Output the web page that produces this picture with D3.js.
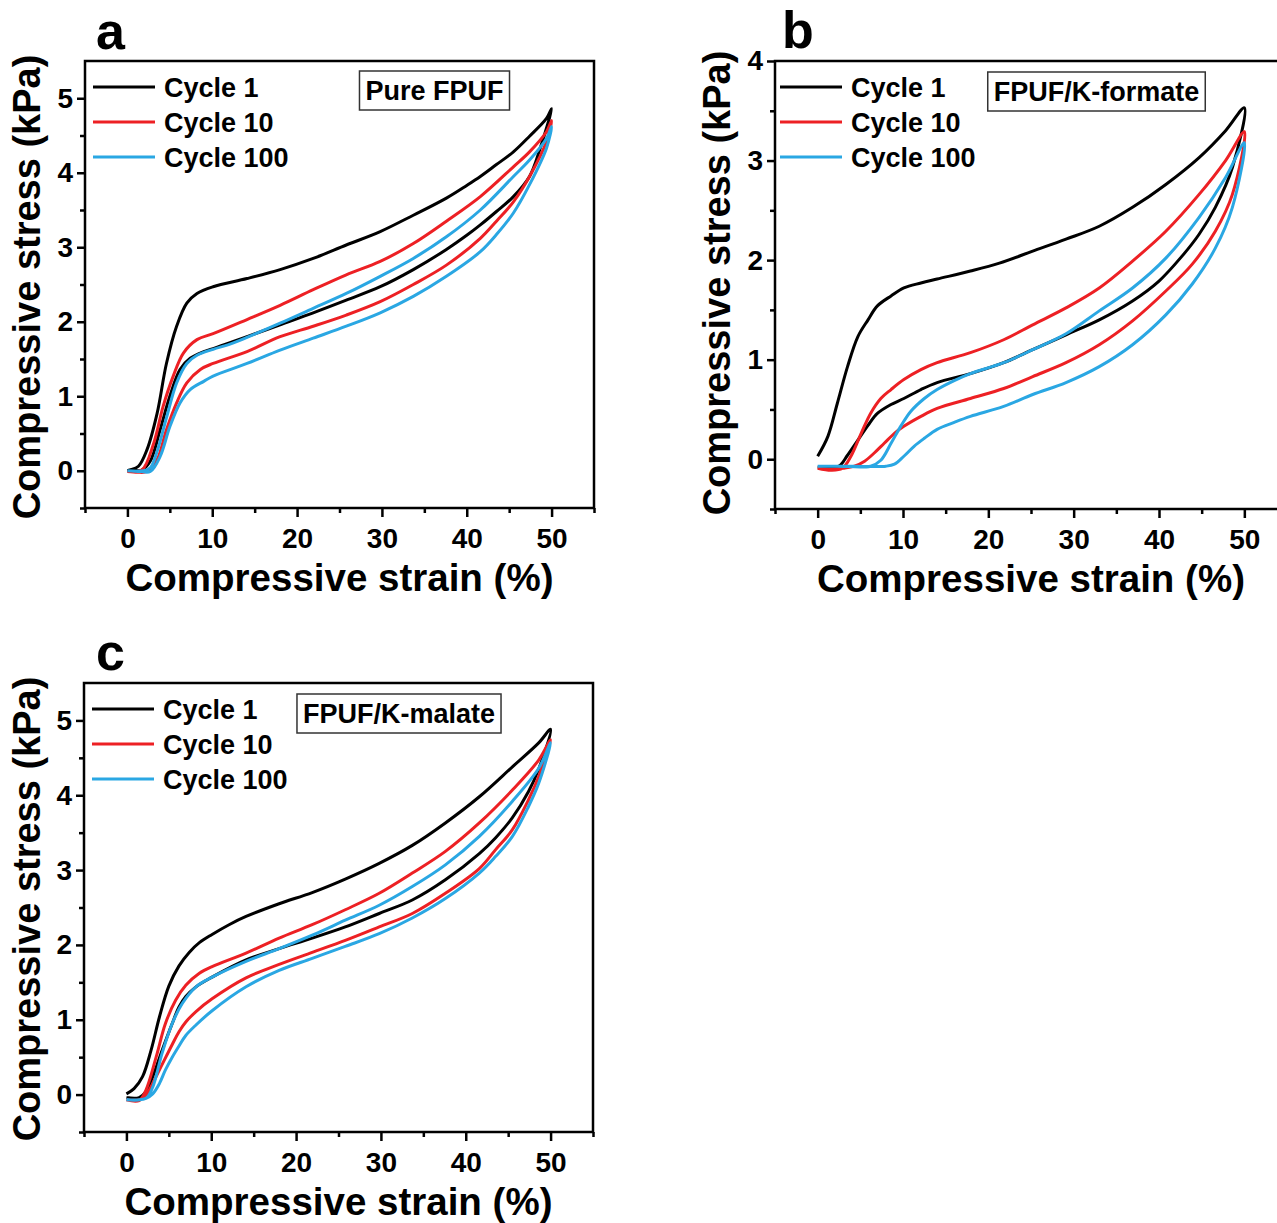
<!DOCTYPE html>
<html>
<head>
<meta charset="utf-8">
<script src="https://cdn.jsdelivr.net/npm/d3@7"></script>
<style>
body { margin: 0; background: #fff; }
text { font-family: "Liberation Sans", Arial, sans-serif; font-weight: bold; fill: #000; }
</style>
</head>
<body>
<div id="viz"></div>
<script>
const width = 1277;
const height = 1223;

const strainTicks = [0, 10, 20, 30, 40, 50];
const strainMinor = [-5, 5, 15, 25, 35, 45, 55];
const stressTicksA = [0, 1, 2, 3, 4, 5];
const stressMinorA = [-0.5, 0.5, 1.5, 2.5, 3.5, 4.5];
const stressTicksB = [0, 1, 2, 3, 4];
const stressMinorB = [-0.5, 0.5, 1.5, 2.5, 3.5];
const cycleNames = ['Cycle 1', 'Cycle 10', 'Cycle 100'];
const cycleColors = ['#000000', '#ED2024', '#2AA7E3'];
const panelTitles = ['Pure FPUF', 'FPUF/K-formate', 'FPUF/K-malate'];

// [strain %, stress kPa]
// a: Pure FPUF
const pureLoad1 = [[0,0],[0.3,0.01],[1.3,0.06],[2.3,0.28],[3.5,0.77],[4.6,1.44],[5.8,1.94],[7.0,2.25],[8.2,2.38],[10.1,2.47],[14.1,2.58],[18,2.70],[21.9,2.85],[25.8,3.03],[29.8,3.21],[33.7,3.43],[37.6,3.66],[40,3.83],[41.6,3.95],[43.5,4.11],[45.5,4.28],[47.4,4.49],[49.4,4.73],[50,4.86]];
const pureUnload1 = [[50,4.86],[48.6,4.31],[47.4,3.95],[45.5,3.68],[43.5,3.48],[41.6,3.30],[40,3.16],[37.6,2.97],[33.7,2.70],[29.8,2.47],[25.8,2.29],[21.9,2.12],[18,1.96],[14.1,1.80],[10.1,1.64],[9.0,1.60],[7.4,1.51],[6.2,1.36],[5.0,1.0],[3.85,0.55],[2.7,0.13],[1.7,0.01],[0.7,0],[0,0]];
const pureLoad10 = [[0,-0.01],[1.7,0.01],[3.1,0.37],[4.2,0.86],[5.4,1.27],[6.6,1.58],[8.2,1.76],[10.1,1.84],[14.1,2.03],[18,2.22],[21.9,2.43],[25.8,2.63],[29.8,2.81],[33.7,3.05],[37.6,3.35],[41.6,3.68],[45.5,4.08],[47.4,4.28],[49.4,4.55],[50,4.70]];
const pureUnload10 = [[50,4.70],[49.4,4.42],[47.4,3.95],[45.5,3.61],[43.5,3.35],[41.6,3.12],[37.6,2.76],[33.7,2.50],[29.8,2.27],[25.8,2.09],[21.9,1.94],[18,1.80],[14.1,1.60],[10.1,1.44],[8.6,1.36],[7.0,1.18],[5.8,0.91],[4.6,0.55],[3.5,0.15],[2.3,-0.01],[1.2,-0.02],[0,-0.01]];
const pureLoad100 = [[0,0],[1.9,0],[2.7,0.04],[3.5,0.26],[4.6,0.71],[5.8,1.18],[7.0,1.44],[8.2,1.55],[10.1,1.63],[12.1,1.70],[14.1,1.79],[18,1.98],[21.9,2.18],[25.8,2.38],[29.8,2.61],[33.7,2.85],[37.6,3.14],[41.6,3.50],[45.5,3.95],[47.4,4.17],[49.4,4.46],[50,4.62]];
const pureUnload100 = [[50,4.62],[49.4,4.33],[47.4,3.84],[45.5,3.46],[43.5,3.17],[41.6,2.94],[37.6,2.61],[33.7,2.34],[29.8,2.12],[25.8,1.94],[21.9,1.78],[18,1.62],[14.1,1.44],[10.1,1.27],[9.0,1.20],[7.4,1.09],[6.2,0.91],[5.0,0.59],[3.85,0.19],[2.7,-0.01],[1.5,-0.01],[0,0]];

// b: FPUF/K-formate
const formateLoad1 = [[0,0.03],[1.2,0.23],[2.3,0.56],[3.5,0.93],[4.7,1.23],[5.9,1.40],[7.0,1.54],[8.6,1.64],[10.1,1.72],[12.1,1.77],[14,1.81],[17.9,1.89],[21.3,1.97],[25.2,2.09],[29.1,2.21],[33,2.34],[36.9,2.53],[40.8,2.76],[44.7,3.03],[47.8,3.30],[50,3.53]];
const formateUnload1 = [[50,3.53],[48.6,2.93],[46.6,2.53],[44.7,2.26],[42.7,2.04],[40,1.79],[36.9,1.59],[33,1.40],[29.1,1.25],[25.2,1.10],[21.8,0.97],[17.9,0.86],[14,0.77],[12.1,0.70],[10.1,0.61],[8.6,0.55],[7.0,0.46],[5.9,0.34],[4.7,0.19],[3.5,0.04],[2.5,-0.07],[1.0,-0.08],[0,-0.08]];
const formateLoad10 = [[0,-0.09],[1.6,-0.11],[2.9,-0.09],[3.9,0.03],[5.1,0.26],[6.2,0.46],[7.4,0.61],[8.6,0.70],[10.1,0.80],[12.1,0.90],[14,0.97],[17.9,1.07],[21.8,1.20],[25.2,1.35],[29.1,1.52],[33,1.72],[36.9,1.99],[40.8,2.29],[44.7,2.66],[47.8,3.0],[50,3.29]];
const formateUnload10 = [[50,3.29],[48.6,2.66],[46.6,2.29],[43.9,1.96],[40.8,1.69],[36.9,1.39],[33,1.15],[29.1,0.97],[25.2,0.83],[21.8,0.71],[17.9,0.61],[14,0.51],[12.1,0.43],[10.1,0.33],[9.0,0.26],[7.8,0.16],[6.6,0.06],[5.5,-0.02],[4.3,-0.07],[3,-0.09],[1.6,-0.1],[0,-0.09]];
const formateLoad100 = [[0,-0.07],[2.3,-0.07],[6.2,-0.07],[7.4,-0.01],[8.6,0.16],[9.8,0.34],[10.9,0.48],[12.5,0.61],[14,0.70],[16,0.79],[17.9,0.86],[21.8,0.97],[25.2,1.10],[29.1,1.26],[33,1.49],[36.9,1.72],[40.8,2.02],[44.7,2.43],[47.8,2.83],[50,3.18]];
const formateUnload100 = [[50,3.18],[48.6,2.53],[46.6,2.12],[43.9,1.76],[40.8,1.45],[36.9,1.15],[33,0.93],[29.1,0.77],[25.2,0.65],[21.8,0.53],[17.9,0.43],[16,0.37],[14,0.30],[12.5,0.21],[11.3,0.13],[10.1,0.03],[9.0,-0.05],[8.0,-0.07],[4,-0.07],[0,-0.07]];

// c: FPUF/K-malate
const malateLoad1 = [[0,0.01],[0.9,0.08],[1.9,0.24],[2.9,0.59],[3.9,1.04],[5.0,1.45],[6.2,1.72],[7.4,1.90],[8.6,2.03],[10.1,2.14],[12.1,2.27],[14.1,2.38],[18,2.55],[21.9,2.70],[25.8,2.88],[29.8,3.09],[33.7,3.33],[37.6,3.63],[41.6,3.98],[45.5,4.38],[48.6,4.70],[50,4.88]];
const malateUnload1 = [[50,4.88],[48.6,4.35],[47.4,4.05],[45.5,3.70],[43.5,3.43],[41.6,3.22],[37.6,2.87],[33.7,2.60],[29.8,2.42],[25.8,2.24],[21.9,2.09],[18,1.95],[14.1,1.80],[10.1,1.57],[8.2,1.44],[7.0,1.31],[6.2,1.17],[5.4,0.95],[4.2,0.59],[3.1,0.24],[2.3,0.04],[1.5,-0.04],[0,-0.04]];
const malateLoad10 = [[0,-0.07],[1.5,-0.08],[2.3,0.06],[3.5,0.50],[4.6,0.95],[5.8,1.26],[7.0,1.46],[8.6,1.62],[10.1,1.71],[14.1,1.89],[18,2.09],[21.9,2.27],[25.8,2.47],[29.8,2.69],[33.7,2.96],[37.6,3.25],[41.6,3.63],[45.5,4.07],[48.6,4.47],[50,4.74]];
const malateUnload10 = [[50,4.74],[48.6,4.25],[47.4,3.94],[45.5,3.54],[43.5,3.27],[41.6,3.02],[37.6,2.69],[33.7,2.42],[29.8,2.24],[25.8,2.06],[21.9,1.90],[18,1.74],[14.1,1.56],[10.1,1.28],[8.2,1.11],[7.0,0.97],[6.2,0.84],[5.4,0.67],[4.2,0.40],[3.1,0.15],[2.3,-0.01],[1.5,-0.07],[0,-0.07]];
const malateLoad100 = [[0,-0.07],[2.3,-0.05],[3.1,0.10],[4.2,0.55],[5.4,0.95],[6.6,1.22],[8.2,1.44],[10.1,1.57],[14.1,1.78],[18,1.95],[21.9,2.13],[25.8,2.33],[29.8,2.53],[33.7,2.78],[37.6,3.07],[41.6,3.45],[45.5,3.92],[48.6,4.36],[50,4.70]];
const malateUnload100 = [[50,4.70],[48.6,4.16],[47.4,3.85],[45.5,3.45],[43.5,3.18],[41.6,2.96],[37.6,2.62],[33.7,2.36],[29.8,2.15],[25.8,1.98],[21.9,1.82],[18,1.66],[14.1,1.44],[10.1,1.12],[8.2,0.93],[7.0,0.79],[6.2,0.65],[5.4,0.50],[4.6,0.33],[3.9,0.15],[3.1,0.01],[2.3,-0.05],[1.5,-0.07],[0,-0.07]];

const panels = [
    { letter: 'a', title: panelTitles[0], left: 85, right: 594, top: 61, bottom: 508,
      yDomain: [-0.5, 5.5], yTicks: stressTicksA, yMinor: stressMinorA,
      letterX: 96, letterY: 49, boxX: 434.5, boxY: 90.5, legendX: 93, yTitleX: 40, yTitleY: 287,
      loops: [[pureLoad1, pureUnload1], [pureLoad10, pureUnload10], [pureLoad100, pureUnload100]] },
    { letter: 'b', title: panelTitles[1], left: 775, right: 1287, top: 61, bottom: 509,
      yDomain: [-0.5, 4], yTicks: stressTicksB, yMinor: stressMinorB,
      letterX: 782, letterY: 48, boxX: 1096.5, boxY: 91.5, legendX: 780, yTitleX: 730, yTitleY: 283,
      loops: [[formateLoad1, formateUnload1], [formateLoad10, formateUnload10], [formateLoad100, formateUnload100]] },
    { letter: 'c', title: panelTitles[2], left: 84, right: 593, top: 683, bottom: 1132,
      yDomain: [-0.5, 5.5], yTicks: stressTicksA, yMinor: stressMinorA,
      letterX: 96, letterY: 670, boxX: 399, boxY: 713.5, legendX: 92, yTitleX: 40, yTitleY: 909,
      loops: [[malateLoad1, malateUnload1], [malateLoad10, malateUnload10], [malateLoad100, malateUnload100]] }
];

const svg = d3.select('#viz')
    .append('svg')
        .attr('width', width)
        .attr('height', height)
        .attr('viewBox', [0, 0, width, height]);

panels.forEach(drawPanel);

function styleAxis(a) {
    a.select('.domain').remove();
    a.selectAll('.tick line').attr('stroke', '#000').attr('stroke-width', 2.5);
    a.selectAll('.tick text').style('font-size', '28px').style('font-family', '"Liberation Sans", Arial, sans-serif').style('font-weight', 'bold');
}

function drawPanel(p) {
    const xScale = d3.scaleLinear().domain([-5, 55]).range([p.left, p.right]);
    const yScale = d3.scaleLinear().domain(p.yDomain).range([p.bottom, p.top]);
    const g = svg.append('g');

    // minor + major ticks
    g.append('g')
        .attr('transform', `translate(0, ${p.bottom})`)
        .call(d3.axisBottom(xScale).tickValues(strainMinor).tickSize(5).tickFormat(''))
        .call(styleAxis);
    g.append('g')
        .attr('transform', `translate(0, ${p.bottom})`)
        .call(d3.axisBottom(xScale).tickValues(strainTicks).tickSize(9).tickPadding(11))
        .call(styleAxis);
    g.append('g')
        .attr('transform', `translate(${p.left}, 0)`)
        .call(d3.axisLeft(yScale).tickValues(p.yMinor).tickSize(5).tickFormat(''))
        .call(styleAxis);
    g.append('g')
        .attr('transform', `translate(${p.left}, 0)`)
        .call(d3.axisLeft(yScale).tickValues(p.yTicks).tickSize(8).tickPadding(4).tickFormat(d3.format('d')))
        .call(styleAxis);

    // frame
    g.append('rect')
        .attr('x', p.left)
        .attr('y', p.top)
        .attr('width', p.right - p.left)
        .attr('height', p.bottom - p.top)
        .attr('fill', 'none')
        .attr('stroke', '#000')
        .attr('stroke-width', 2.5);

    const line = d3.line()
        .x(d => xScale(d[0]))
        .y(d => yScale(d[1]))
        .curve(d3.curveCatmullRom.alpha(0.5));

    p.loops.forEach((loop, i) => {
        g.append('path')
            .datum(loop[0].concat(loop[1].slice(1)))
            .attr('d', line)
            .attr('fill', 'none')
            .attr('stroke', cycleColors[i])
            .attr('stroke-width', 3)
            .attr('stroke-linejoin', 'round');
    });

    // legend
    cycleNames.forEach((name, i) => {
        const ly = p.top + 26 + i * 35;
        g.append('line')
            .attr('x1', p.legendX).attr('x2', p.legendX + 62)
            .attr('y1', ly).attr('y2', ly)
            .attr('stroke', cycleColors[i])
            .attr('stroke-width', 3);
        g.append('text')
            .attr('x', p.legendX + 71)
            .attr('y', ly + 10)
            .style('font-size', '27px')
            .text(name);
    });

    // sample label box
    const box = g.append('rect');
    const label = g.append('text')
        .attr('x', p.boxX)
        .attr('y', p.boxY + 9.5)
        .attr('text-anchor', 'middle')
        .style('font-size', '27px')
        .text(p.title);
    const bb = label.node().getBBox();
    box
        .attr('x', bb.x - 6)
        .attr('y', p.boxY - 19.5)
        .attr('width', bb.width + 12)
        .attr('height', 39)
        .attr('fill', '#fff')
        .attr('stroke', '#333')
        .attr('stroke-width', 1.5);

    // panel letter
    g.append('text')
        .attr('x', p.letterX)
        .attr('y', p.letterY)
        .style('font-size', '52px')
        .text(p.letter);

    // axis titles
    g.append('text')
        .attr('x', (xScale(0) + xScale(50)) / 2)
        .attr('y', p.bottom + 83)
        .attr('text-anchor', 'middle')
        .style('font-size', '38.5px')
        .text('Compressive strain (%)');
    g.append('text')
        .attr('transform', `translate(${p.yTitleX}, ${p.yTitleY}) rotate(-90)`)
        .attr('text-anchor', 'middle')
        .style('font-size', '38px')
        .text('Compressive stress (kPa)');
}
</script>
</body>
</html>
